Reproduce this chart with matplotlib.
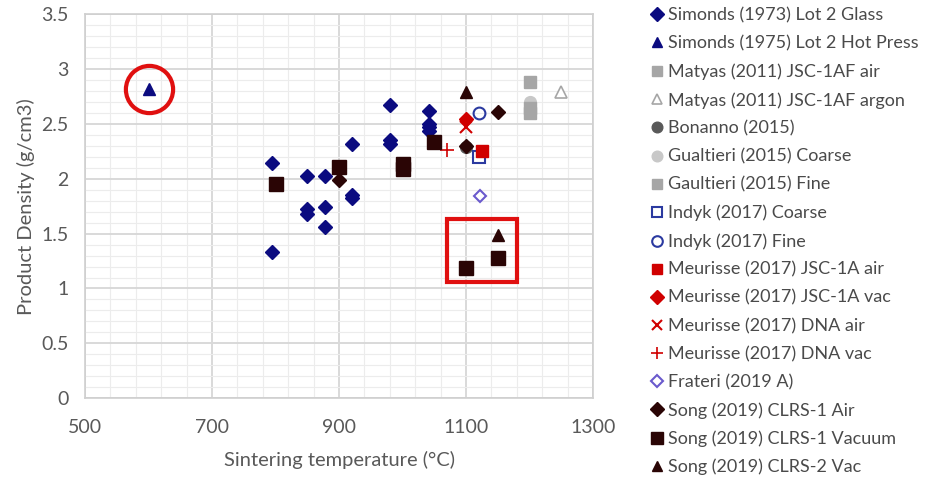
import matplotlib
matplotlib.use("Agg")
import matplotlib.pyplot as plt
from matplotlib.patches import Rectangle
import numpy as np

plt.rcParams['font.family'] = ['Lato', 'DejaVu Sans']

# --- data ---
simonds73_T = [795, 795, 850, 850, 850, 878, 878, 878, 921, 921, 921, 981, 981, 981, 1041, 1041, 1041, 1041]
simonds73_d = [2.14, 1.33, 2.02, 1.72, 1.68, 2.02, 1.74, 1.56, 2.32, 1.85, 1.82, 2.67, 2.35, 2.32, 2.62, 2.50, 2.47, 2.43]
simonds75_T = [600]
simonds75_d = [2.82]
matyas_air_T = [1200, 1200]
matyas_air_d = [2.88, 2.60]
matyas_ar_T = [1250]
matyas_ar_d = [2.79]
bonanno_T = [1100]
bonanno_d = [2.29]
gual_coarse_T = [1200]
gual_coarse_d = [2.70]
gual_fine_T = [1200]
gual_fine_d = [2.64]
indyk_coarse_T = [1120]
indyk_coarse_d = [2.20]
indyk_fine_T = [1120]
indyk_fine_d = [2.60]
meur_air_T = [1125]
meur_air_d = [2.25]
meur_vac_T = [1100]
meur_vac_d = [2.54]
meur_dna_air_T = [1100]
meur_dna_air_d = [2.47]
meur_dna_vac_T = [1070]
meur_dna_vac_d = [2.26]
frateri_T = [1122]
frateri_d = [1.84]
song_air_T = [900, 1100, 1150]
song_air_d = [1.99, 2.30, 2.61]
song_vac_T = [800, 900, 1000, 1000, 1050, 1100, 1150]
song_vac_d = [1.95, 2.11, 2.13, 2.09, 2.33, 1.19, 1.28]
song2_T = [1100, 1150]
song2_d = [2.79, 1.49]

navy = '#0b0b80'
dark = '#2a0505'
red = '#d00000'
txt = '#595959'

fig = plt.figure(figsize=(9.27, 4.79), dpi=100)
ax = fig.add_axes([0.0917, 0.1685, 0.548, 0.8023])

def pts(T, d, label, **kw):
    ax.plot(T, d, ls='none', label=label, **kw)

pts(simonds73_T, simonds73_d, 'Simonds (1973) Lot 2 Glass', marker='D', ms=7.5, color=navy)
pts(simonds75_T, simonds75_d, 'Simonds (1975) Lot 2 Hot Press', marker='^', ms=8.5, color=navy)
pts(matyas_air_T, matyas_air_d, 'Matyas (2011) JSC-1AF air', marker='s', ms=8.5, color='#a6a6a6')
pts(matyas_ar_T, matyas_ar_d, 'Matyas (2011) JSC-1AF argon', marker='^', ms=8.5, mfc='white', mec='#a6a6a6', mew=1.2)
pts(bonanno_T, bonanno_d, 'Bonanno (2015)', marker='o', ms=8.5, color='#595959')
pts(gual_coarse_T, gual_coarse_d, 'Gualtieri (2015) Coarse', marker='o', ms=8.5, color='#c8c8c8')
pts(gual_fine_T, gual_fine_d, 'Gaultieri (2015) Fine', marker='s', ms=8.5, color='#a6a6a6')
pts(indyk_coarse_T, indyk_coarse_d, 'Indyk (2017) Coarse', marker='s', ms=8.5, mfc='none', mec='#2b3aa0', mew=1.5)
pts(indyk_fine_T, indyk_fine_d, 'Indyk (2017) Fine', marker='o', ms=8.5, mfc='none', mec='#2b3aa0', mew=1.5)
pts(meur_air_T, meur_air_d, 'Meurisse (2017) JSC-1A air', marker='s', ms=8.5, color=red)
pts(meur_vac_T, meur_vac_d, 'Meurisse (2017) JSC-1A vac', marker='D', ms=7.5, color=red)
pts(meur_dna_air_T, meur_dna_air_d, 'Meurisse (2017) DNA air', marker='x', ms=8.5, color=red, mew=1.5)
pts(meur_dna_vac_T, meur_dna_vac_d, 'Meurisse (2017) DNA vac', marker='+', ms=9.5, color=red, mew=1.2)
pts(frateri_T, frateri_d, 'Frateri (2019 A)', marker='D', ms=6.5, mfc='none', mec='#6a5acd', mew=1.5)
pts(song_air_T, song_air_d, 'Song (2019) CLRS-1 Air', marker='D', ms=7.5, color=dark)
pts(song_vac_T, song_vac_d, 'Song (2019) CLRS-1 Vacuum', marker='s', ms=9.5, color=dark)
pts(song2_T, song2_d, 'Song (2019) CLRS-2 Vac', marker='^', ms=8.5, color=dark)

# red highlight annotations
ax.plot(simonds75_T, simonds75_d, ls='none', marker='o', ms=34, mfc='none', mec='#e01010', mew=3, zorder=5)
boxT = [song_vac_T[5], song_vac_T[6], song2_T[1]]
boxd = [song_vac_d[5], song_vac_d[6], song2_d[1]]
x0, x1 = min(boxT) - 30, max(boxT) + 31
y0, y1 = min(boxd) - 0.13, max(boxd) + 0.14
ax.add_patch(Rectangle((x0, y0), x1 - x0, y1 - y0, fill=False, ec='#e01010', lw=3, zorder=5))

ax.set_xlim(500, 1300)
ax.set_ylim(0, 3.5)
ax.set_xticks(np.arange(500, 1301, 200))
ax.set_yticks(np.arange(0, 3.51, 0.5))
ax.set_yticklabels(['0', '0.5', '1', '1.5', '2', '2.5', '3', '3.5'])
ax.set_xticks(np.arange(500, 1301, 40), minor=True)
ax.set_yticks(np.arange(0, 3.51, 0.1), minor=True)
ax.grid(which='major', color='#d9d9d9', lw=1.4)
ax.grid(which='minor', color='#ececec', lw=0.8)
ax.set_axisbelow(True)
ax.tick_params(which='both', length=0, labelsize=14, colors=txt)
ax.tick_params(axis='y', pad=12)
ax.tick_params(axis='x', pad=15)
for s in ax.spines.values():
    s.set_color('#cfcfcf')
    s.set_linewidth(1.2)

ax.set_xlabel('Sintering temperature (°C)', fontsize=14.5, color=txt, labelpad=11)
ax.set_ylabel('Product Density (g/cm3)', fontsize=14.5, color=txt, labelpad=4)

leg = fig.legend(loc='upper left', bbox_to_anchor=(0.683, 1.018), frameon=False,
                 fontsize=13, labelspacing=0.66, handlelength=0.8, handletextpad=0.25,
                 markerscale=0.9, labelcolor='#4a4a4a')

fig.savefig('out.png', dpi=100)
